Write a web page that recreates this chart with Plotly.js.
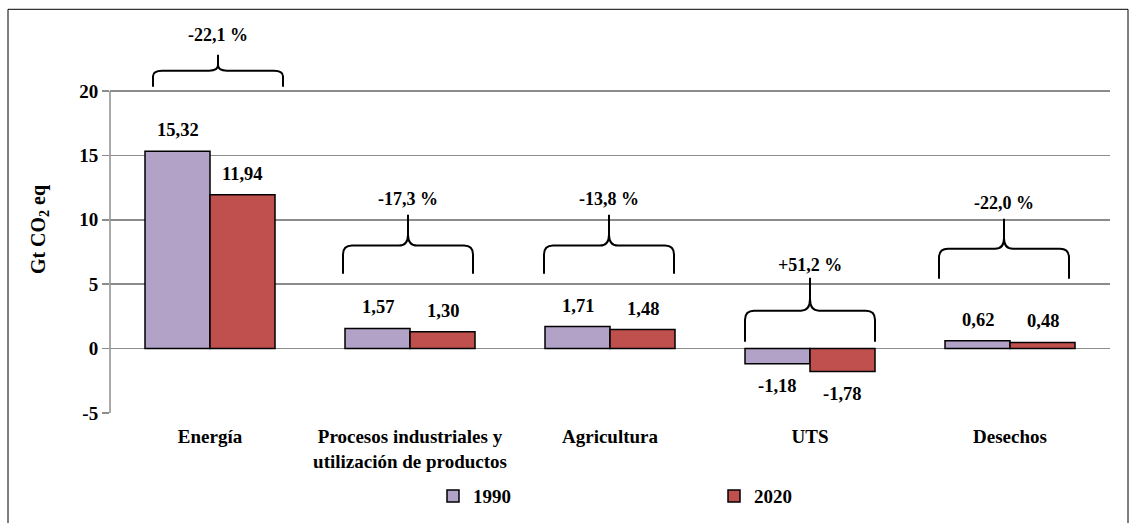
<!DOCTYPE html>
<html>
<head>
<meta charset="utf-8">
<script src="https://cdn.plot.ly/plotly-3.0.1.min.js"></script>
<style>html,body{margin:0;padding:0;background:#fff;}#chart{width:1129px;height:523px;}</style>
</head>
<body>
<div id="chart"></div>
<script>
var categories = ['Energía', 'Procesos industriales y<br>utilización de productos', 'Agricultura', 'UTS', 'Desechos'];
var values1990 = [15.32, 1.57, 1.71, -1.18, 0.62];
var values2020 = [11.94, 1.30, 1.48, -1.78, 0.48];
var changeLabels = ['-22,1 %', '-17,3 %', '-13,8 %', '+51,2 %', '-22,0 %'];
var yTicks = [-5, 0, 5, 10, 15, 20];

// brace geometry (data units): bottom ends, horizontal bar, tip; label offset above tip (px)
var braceBottom = [20.34, 5.82, 5.82, 0.54, 5.43];
var braceMid    = [21.58, 8.00, 8.00, 2.95, 7.76];
var braceTip    = [22.83, 10.40, 10.40, 5.51, 10.09];
var braceLabelShift = [20, 16, 16, 13, 16];
var braceShift  = [0.04, -0.01, -0.005, 0.0, -0.03];

var FONT = 'Liberation Serif';
function fmt(v){ return v.toFixed(2).replace('.', ','); }

var traces = [
  {type:'bar', name:'1990', x:categories, y:values1990,
   marker:{color:'#B3A2C7', line:{color:'#000', width:1.5}}, hoverinfo:'none'},
  {type:'bar', name:'2020', x:categories, y:values2020,
   marker:{color:'#C0504D', line:{color:'#000', width:1.5}}, hoverinfo:'none'}
];

var annotations = [];
var shapes = [];
categories.forEach(function(c, i){
  [[values1990[i], -32.5], [values2020[i], 32.5]].forEach(function(p){
    annotations.push({x:i, y:p[0], xref:'x', yref:'y', text:fmt(p[0]), showarrow:false,
      xshift:p[1], yshift:p[0] >= 0 ? 21 : -22,
      font:{family:FONT, size:18.5, color:'#000', weight:'bold'}});
  });
  var xc = i + braceShift[i], hw = 0.325, r = 0.045;
  var x0 = xc - hw, x1 = xc + hw, yb = braceBottom[i], yh = braceMid[i], yt = braceTip[i];
  var k = (yt - yh) * 0.35;
  var kk = Math.min(0.7, (yh - yb) * 0.35);
  var path = 'M' + x0 + ',' + yb + ' L' + x0 + ',' + (yh - kk) +
    ' Q' + x0 + ',' + yh + ' ' + (x0 + r) + ',' + yh +
    ' L' + (xc - r) + ',' + yh +
    ' Q' + xc + ',' + yh + ' ' + xc + ',' + (yh + k) +
    ' L' + xc + ',' + yt +
    ' M' + xc + ',' + (yh + k) +
    ' Q' + xc + ',' + yh + ' ' + (xc + r) + ',' + yh +
    ' L' + (x1 - r) + ',' + yh +
    ' Q' + x1 + ',' + yh + ' ' + x1 + ',' + (yh - kk) +
    ' L' + x1 + ',' + yb;
  shapes.push({type:'path', xref:'x', yref:'y', path:path, line:{color:'#000', width:2}});
  annotations.push({x:xc, y:yt, xref:'x', yref:'y', text:changeLabels[i], showarrow:false,
    yanchor:'middle', yshift:braceLabelShift[i],
    font:{family:FONT, size:18, color:'#000', weight:'bold'}});
});

// y axis line from -5 to 20
shapes.push({type:'line', xref:'paper', yref:'y', x0:0, x1:0, y0:-5, y1:20, line:{color:'#8c8c8c', width:1.5}});
// outer frame
shapes.push({type:'rect', xref:'paper', yref:'paper', x0:-0.102, x1:1.018, y0:-0.35, y1:1.1, line:{color:'#000', width:1}, layer:'below'});

var layout = {
  width:1129, height:523,
  margin:{l:110, r:19, t:46, b:110, autoexpand:false},
  paper_bgcolor:'#fff', plot_bgcolor:'rgba(0,0,0,0)',
  font:{family:FONT, color:'#000'},
  separators:',.',
  barmode:'group', bargap:0.35, bargroupgap:0,
  showlegend:true,
  legend:{orientation:'h', x:0.323, xanchor:'left', y:-0.175, yanchor:'top',
    entrywidth:236, entrywidthmode:'pixels', itemwidth:30,
    font:{family:FONT, size:19, color:'#000', weight:'bold'}, bgcolor:'rgba(0,0,0,0)'},
  xaxis:{type:'category', showgrid:false, zeroline:false, showline:false, ticks:'',
    ticklabelstandoff:10,
    tickfont:{family:FONT, size:19, color:'#000', weight:'bold'}, fixedrange:true, automargin:false},
  yaxis:{range:[-5, 23.5], tickvals:yTicks, ticktext:yTicks.map(String),
    showgrid:true, gridcolor:'#8c8c8c', gridwidth:1.5, zeroline:false, showline:false,
    ticks:'outside', ticklen:7, tickcolor:'#8c8c8c', tickwidth:1.5,
    tickfont:{family:FONT, size:19, color:'#000', weight:'bold'},
    title:{text:'Gt CO<sub>2</sub> eq', font:{family:FONT, size:20, color:'#000', weight:'bold'}, standoff:28},
    fixedrange:true, automargin:false},
  shapes:shapes,
  annotations:annotations
};

Plotly.newPlot('chart', traces, layout, {displayModeBar:false, staticPlot:true});
</script>
</body>
</html>
